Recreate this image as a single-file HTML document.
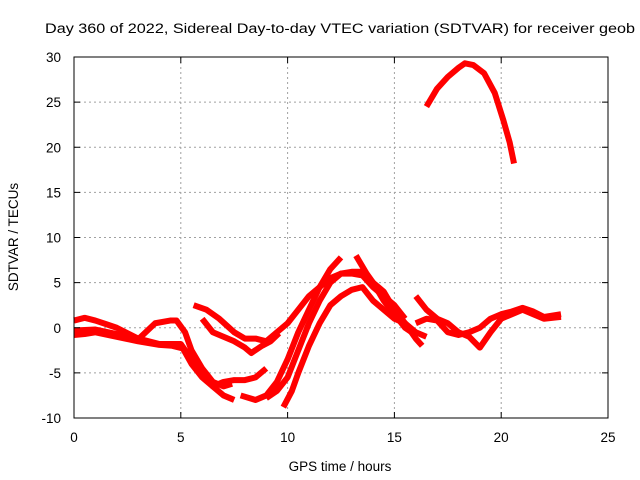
<!DOCTYPE html>
<html><head><meta charset="utf-8"><style>
body{margin:0;background:#fff;}
svg{display:block;font-family:"Liberation Sans",sans-serif;}
</style></head><body>
<svg id="chart" width="640" height="480" xmlns="http://www.w3.org/2000/svg">
<rect width="640" height="480" fill="#fff"/>
<text x="45" y="33" font-size="13.5" textLength="590" lengthAdjust="spacingAndGlyphs">Day 360 of 2022, Sidereal Day-to-day VTEC variation (SDTVAR) for receiver geob</text>
<g id="grid"></g>
<g id="series"></g>
<g id="axes"></g>
<text x="340" y="471" font-size="13.5" text-anchor="middle">GPS time / hours</text>
<text transform="translate(18,237) rotate(-90)" font-size="13.5" text-anchor="middle">SDTVAR / TECUs</text>
</svg>
<script>
const xTicks=[0,5,10,15,20,25];
const yTicks=[-10,-5,0,5,10,15,20,25,30];
const sArc=[[16.5,24.5],[17,26.5],[17.5,27.8],[18,28.8],[18.3,29.3],[18.7,29.1],[19.2,28.2],[19.7,26],[20.1,23],[20.4,20.5],[20.6,18.2]];
const sB=[[0,0.8],[0.5,1.1],[1,0.8],[1.5,0.4],[2,0],[2.5,-0.6],[3,-1.2],[3.5,-1.5],[4,-1.8],[4.5,-1.8],[5,-1.8],[5.5,-3.5],[6,-5],[6.5,-6.5],[7,-7.5],[7.5,-8]];
const sC=[[0,-0.8],[0.5,-0.7],[1,-0.5],[2,-1],[3,-1.5],[4,-1.9],[4.6,-2],[5.1,-2.3],[5.5,-4],[6,-5.5],[6.5,-6.5],[7,-6],[7.5,-5.8],[8,-5.8],[8.5,-5.5],[9,-4.5]];
const sC2=[[0,-0.3],[1,-0.2],[2,-0.7],[3,-1.3],[3.8,0.5],[4.5,0.8],[4.8,0.8],[5.2,-0.5],[5.5,-2.5],[6,-4.5],[6.5,-6],[7,-6.5],[7.4,-6.2]];
const sD=[[5.6,2.5],[6.2,2],[6.8,1],[7.5,-0.5],[8,-1.2],[8.5,-1.2],[9,-1.5],[9.5,-0.5],[10,0.5],[10.5,2],[11,3.5],[11.5,4.5],[12,5.5],[12.5,6],[13,6.2],[13.5,6.2],[14,5],[14.5,3],[15,1.5],[15.5,0],[16,-0.8]];
const sE=[[6,1],[6.5,-0.5],[7,-1],[7.5,-1.5],[8,-2.2],[8.3,-2.8],[8.8,-2],[9.2,-1.5],[9.6,-0.6]];
const sF=[[7.8,-7.5],[8.5,-8],[9,-7.5],[9.5,-6],[10,-3.5],[10.5,-0.5],[11,2],[11.5,4.5],[12,6.5],[12.5,7.8]];
const sG=[[9.8,-8.8],[10.2,-7],[10.5,-5],[11,-2],[11.5,0.5],[12,2.5],[12.5,3.5],[13,4.2],[13.5,4.5],[14,3],[14.5,2],[15,1],[15.5,0.5],[16,-0.5],[16.5,-1]];
const sG2=[[9,-7.8],[9.5,-7],[10,-5.5],[10.5,-2.5],[11,0.5],[11.5,3],[12,5],[12.5,6],[13,6],[13.5,5.8],[14,4.5],[14.5,3.5],[15,2.5],[15.5,1]];
const sH=[[13.2,8],[13.7,6],[14,5],[14.5,4],[15,2],[15.5,0.5],[16,-1.2],[16.3,-2]];
const sI=[[16,3.5],[16.5,2],[17,1],[17.5,0.5],[18,-0.5],[18.5,-1],[19,-2.2],[19.5,-0.5],[20,1],[20.5,1.5],[21,2],[21.5,1.5],[22,1],[22.8,1.2]];
const sJ=[[16,0.5],[16.5,1],[17,0.8],[17.5,-0.5],[18,-0.8],[18.5,-0.5],[19,0],[19.5,1],[20,1.5],[20.5,1.8],[21,2.2],[21.5,1.8],[22,1.2],[22.8,1.5]];
const seriesList=[sArc,sB,sC,sC2,sD,sE,sF,sG,sG2,sH,sI,sJ];
const X0=74,X1=608,Y0=418,Y1=57;
function sx(h){return X0+(h-0)/(25-0)*(X1-X0);}
function sy(v){return Y0-(v+10)/(30+10)*(Y0-Y1);}
const NS='http://www.w3.org/2000/svg';
const grid=document.getElementById('grid'),axes=document.getElementById('axes'),ser=document.getElementById('series');
function mk(t,a,p){const e=document.createElementNS(NS,t);for(const k in a)e.setAttribute(k,a[k]);p.appendChild(e);return e;}
xTicks.forEach(t=>{
 if(t>0&&t<25){const g=mk('line',{x1:sx(t),x2:sx(t),y1:Y1,y2:Y0,stroke:'#a0a0a0','stroke-dasharray':'2,3'},grid);
 
 }
 mk('line',{x1:sx(t),x2:sx(t),y1:Y0,y2:Y0-6,stroke:'#000'},axes);
 mk('line',{x1:sx(t),x2:sx(t),y1:Y1,y2:Y1+6,stroke:'#000'},axes);
 const l=mk('text',{x:sx(t),y:Y0+24,'font-size':13.5,'text-anchor':'middle'},axes);l.textContent=t;
 
 
});
yTicks.forEach(t=>{
 if(t>-10&&t<30){const g=mk('line',{x1:X0,x2:X1,y1:sy(t),y2:sy(t),stroke:'#a0a0a0','stroke-dasharray':'2,3'},grid);
 
 }
 mk('line',{x1:X0,x2:X0+6,y1:sy(t),y2:sy(t),stroke:'#000'},axes);
 mk('line',{x1:X1,x2:X1-6,y1:sy(t),y2:sy(t),stroke:'#000'},axes);
 const l=mk('text',{x:X0-13,y:sy(t)+5,'font-size':13.5,'text-anchor':'end'},axes);l.textContent=t;
 
 
});
const fr=mk('rect',{x:X0,y:Y1,width:X1-X0,height:Y0-Y1,fill:'none',stroke:'#000'},axes);


seriesList.forEach(s=>{
 const p=mk('polyline',{points:s.map(d=>sx(d[0])+','+sy(d[1])).join(' '),fill:'none',stroke:'#ff0000','stroke-width':6,'stroke-linejoin':'round'},ser);
 
 
});
</script>
</body></html>
